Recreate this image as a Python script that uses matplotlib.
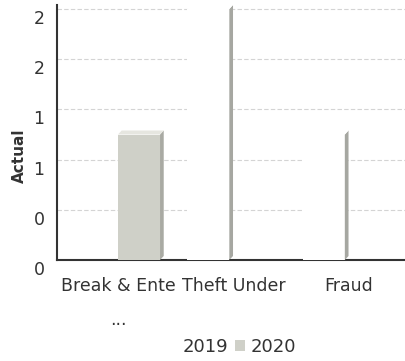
import matplotlib.pyplot as plt
import matplotlib.transforms as mtransforms
from matplotlib.patches import Patch, Polygon
import numpy as np

categories = ['Break & Ente\n...', 'Theft Under', 'Fraud']
series = ['2019', '2020']
actual_2019 = [0, 2, 1]
actual_2020 = [1, 0, 0]
yticks = [0, 0.4, 0.8, 1.2, 1.6, 2.0]

front = {'2019': '#ffffff', '2020': '#cfd0c8'}
side = {'2019': '#a6a7a1', '2020': '#a9aaa3'}
top = {'2019': '#ffffff', '2020': '#e6e6e0'}
txt = '#333333'

fig = plt.figure(figsize=(4.05, 3.61), dpi=100)
ax = fig.add_axes([57 / 405, 1 - 260 / 361, 1 - 57 / 405, (260 - 5) / 361])

x = np.arange(len(categories))
width = 0.364
dx, dy = 0.032, 0.032   # depth of the 3d bars

def bars3d(lefts, heights, name):
    ax.bar(lefts, heights, width, align='edge', color=front[name],
           linewidth=0, zorder=3)
    for l, h in zip(lefts, heights):
        if h == 0:
            continue
        r = l + width
        ax.add_patch(Polygon([(r, 0), (r + dx, dy), (r + dx, h + dy), (r, h)],
                             closed=True, color=side[name], lw=0, zorder=3))
        ax.add_patch(Polygon([(l, h), (l + dx, h + dy), (r + dx, h + dy), (r, h)],
                             closed=True, color=top[name], lw=0, zorder=3))

bars3d(x - 0.40, actual_2019, '2019')
bars3d(x, actual_2020, '2020')

ax.set_xlim(-0.528, 2.485)
ax.set_ylim(0, 2.032)
ax.set_xticks(x)
ax.set_xticklabels(categories, fontsize=12.5, color=txt, linespacing=2.15,
                   va='top')
ax.set_yticks(yticks)
ax.set_yticklabels([f'{v:.0f}' for v in yticks], fontsize=12.5, color=txt)
ax.tick_params(axis='both', length=0)
ax.tick_params(axis='y', pad=9)
ax.tick_params(axis='x', pad=12)

# y labels sit a little below their grid lines
shift = mtransforms.ScaledTranslation(0, -8 / 100, fig.dpi_scale_trans)
for lab in ax.get_yticklabels():
    lab.set_transform(lab.get_transform() + shift)

ax.grid(axis='y', color='#d4d4d4', linestyle=(0, (4, 2)), linewidth=0.8, zorder=0)
ax.set_axisbelow(True)

for s in ['top', 'right']:
    ax.spines[s].set_visible(False)
for s in ['left', 'bottom']:
    ax.spines[s].set_color('#333333')
    ax.spines[s].set_linewidth(1.5)

ax.set_ylabel('Actual', fontsize=11, fontweight='bold', color=txt)
ax.yaxis.set_label_coords(-0.085, 0.41)

handles = [Patch(facecolor=front[n], edgecolor='none') for n in series]
fig.legend(handles, series, loc='center', bbox_to_anchor=(0.572, 0.039),
           ncol=2, frameon=False, fontsize=13, handlelength=0.55,
           handleheight=0.55, handletextpad=0.3, columnspacing=0.35,
           labelcolor=txt)

fig.savefig('out.png', dpi=100)
